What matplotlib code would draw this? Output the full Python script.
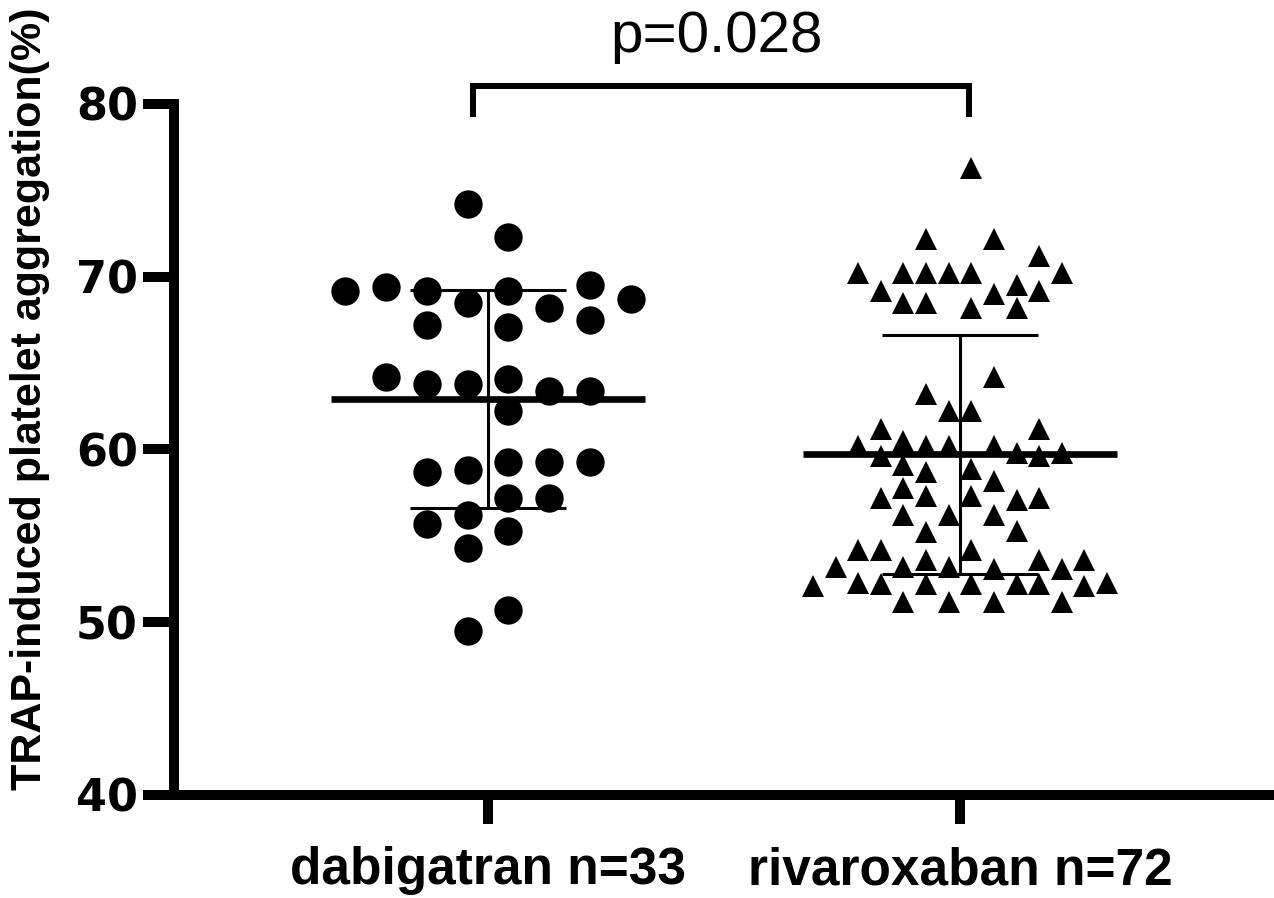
import matplotlib
matplotlib.use("Agg")
import matplotlib.pyplot as plt
import numpy as np

# ---------------- data ----------------
groups = ["dabigatran n=33", "rivaroxaban n=72"]

dabigatran = [74.2, 72.3, 69.2, 69.4, 69.2, 69.2, 69.5, 68.7, 68.5, 68.2,
              67.2, 67.1, 67.5, 64.2, 63.8, 63.8, 64.1, 63.4, 63.4, 62.2,
              58.7, 58.8, 59.3, 59.3, 59.3, 57.2, 57.2, 55.7, 56.2, 55.3,
              54.3, 50.7, 49.5]
# horizontal swarm slot of each point (in half-column units)
dabigatran_slot = [-1, 1, -7, -5, -3, 1, 5, 7, -1, 3,
                   -3, 1, 5, -5, -3, -1, 1, 3, 5, 1,
                   -3, -1, 1, 3, 5, 1, 3, -3, -1, 1,
                   -1, 1, -1]

rivaroxaban = [76.3, 72.2, 72.2, 71.2, 70.2, 70.2, 70.2, 70.2, 70.2, 70.2,
               69.2, 69.5, 69.2, 69.0, 68.5, 68.5, 68.2, 68.2,
               64.2, 63.2, 62.2, 62.2, 61.2, 61.2,
               60.2, 60.5, 60.2, 60.2, 60.2,
               59.6, 59.1, 59.8, 59.6, 59.8,
               58.7, 58.9, 58.2,
               57.8, 57.2, 57.3, 57.3, 57.1, 57.2,
               56.2, 56.2, 56.2,
               55.2, 55.3,
               54.2, 54.2, 54.2,
               53.2, 53.2, 53.6, 53.2, 53.1, 53.6, 53.1, 53.6,
               52.1, 52.3, 52.2, 52.2, 52.2, 52.2, 52.2, 52.1, 52.3,
               51.2, 51.2, 51.2, 51.2]
rivaroxaban_slot = [1, -3, 3, 7, -9, -5, -3, -1, 1, 9,
                    -7, 5, 7, 3, -5, -3, 1, 5,
                    3, -3, -1, 1, -7, 7,
                    -9, -5, -3, -1, 3,
                    -7, -5, 5, 7, 9,
                    -3, 1, 3,
                    -5, -7, -3, 1, 5, 7,
                    -5, -1, 3,
                    -3, 5,
                    -9, -7, 1,
                    -11, -5, -3, -1, 3, 7, 9, 11,
                    -13, -9, -7, -3, 1, 5, 7, 11, 13,
                    -5, -1, 3, 9]

y_ticks = [40, 50, 60, 70, 80]
y_label = "TRAP-induced platelet aggregation(%)"
p_label = "p=0.028"

# ---------------- style / layout ----------------
W, H = 1274, 898
PX_PER_UNIT = 472.0
fig = plt.figure(figsize=(W / 100, H / 100), dpi=100)
ax = fig.add_axes([174 / W, (H - 795) / H, 1 - 174 / W, (795 - 104) / H])
ax.set_xlim(1 - (488 - 174) / PX_PER_UNIT, 2 + (W - 960) / PX_PER_UNIT)
ax.set_ylim(40, 80)

positions = [1, 2]
series = [dabigatran, rivaroxaban]
slots = [dabigatran_slot, rivaroxaban_slot]
steps = [20.4 / PX_PER_UNIT, 11.3 / PX_PER_UNIT]
markers = ["o", "^"]
msizes = [20.4, 15.6]

for pos, vals, sl, st, mk, ms in zip(positions, series, slots, steps, markers, msizes):
    v = np.asarray(vals, dtype=float)
    xs = pos + np.asarray(sl, dtype=float) * st
    ax.plot(xs, v, linestyle="none", marker=mk, markersize=ms, color="black",
            markeredgewidth=0, clip_on=False, zorder=3)
    m = v.mean()
    sd = v.std(ddof=1)
    ax.hlines(m, pos - 157 / PX_PER_UNIT, pos + 157 / PX_PER_UNIT, color="black",
              linewidth=4.8, zorder=4)
    ax.vlines(pos, m - sd, m + sd, color="black", linewidth=2.2, zorder=4)
    ax.hlines([m - sd, m + sd], pos - 78 / PX_PER_UNIT, pos + 78 / PX_PER_UNIT,
              color="black", linewidth=2.2, zorder=4)

# axes styling
for s in ["top", "right"]:
    ax.spines[s].set_visible(False)
for s in ["left", "bottom"]:
    ax.spines[s].set_linewidth(7.2)
    ax.spines[s].set_capstyle("projecting")

ax.set_yticks(y_ticks)
ax.set_yticklabels([str(t) for t in y_ticks], fontfamily="DejaVu Sans",
                   fontweight="bold", fontsize=32)
ax.set_xticks(positions)
ax.set_xticklabels(groups, fontfamily="Liberation Sans", fontweight="bold",
                   fontsize=37)
ax.tick_params(axis="y", length=22, width=7.2, pad=4)
ax.tick_params(axis="x", length=21, width=7.2, pad=16)

fig.text(30 / W, 1 - 399 / H, y_label, rotation=90, ha="center", va="center",
         fontfamily="Liberation Sans", fontweight="bold", fontsize=31)

# significance bracket
y_top = 40 + (795 - 86) / 17.275
y_bot = 40 + (795 - 117) / 17.275
x1 = 1 - (488 - 473) / PX_PER_UNIT
x2 = 2 + (969 - 960) / PX_PER_UNIT
ax.plot([x1, x1, x2, x2], [y_bot, y_top, y_top, y_bot], color="black",
        linewidth=4.3, clip_on=False, solid_joinstyle="miter",
        solid_capstyle="butt")
fig.text(716 / W, 1 - 52 / H, p_label, ha="center", va="baseline",
         fontfamily="Liberation Sans", fontsize=42)

fig.savefig("out.png", dpi=100)
